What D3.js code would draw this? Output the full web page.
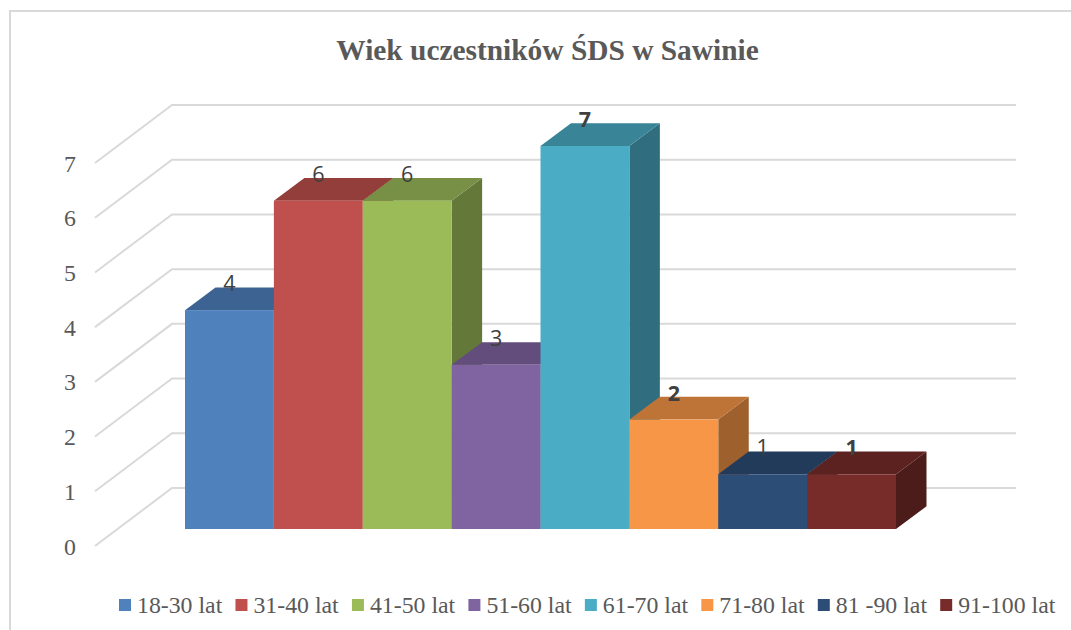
<!DOCTYPE html>
<html>
<head>
  <meta charset="utf-8">
  <script src="https://d3js.org/d3.v7.min.js"></script>
  <style>
    body { margin: 0; background: #fff; }
    svg { display: block; }
    .title { font-family: "Liberation Serif", serif; font-size: 29.4px; font-weight: bold; fill: #595959; text-anchor: middle; }
    .axis text, .legend text { font-family: "Liberation Serif", serif; font-size: 23.8px; fill: #595959; }
    .label { font-family: "Open Sans", sans-serif; font-size: 21.5px; fill: #404040; text-anchor: middle; }
    .grid { stroke: #d9d9d9; stroke-width: 2; fill: none; }
  </style>
</head>
<body>
  <script>
    // Chart data
    var title = "Wiek uczestników ŚDS w Sawinie";
    var categories = ["18-30 lat", "31-40 lat", "41-50 lat", "51-60 lat", "61-70 lat", "71-80 lat", "81 -90 lat", "91-100 lat"];
    var values = [4, 6, 6, 3, 7, 2, 1, 1];
    var yTicks = [0, 1, 2, 3, 4, 5, 6, 7];
    var colors = ["#4f81bd", "#c0504d", "#9bbb59", "#8064a2", "#4bacc6", "#f79646", "#2c4d75", "#772c2a"];
    var boldLabels = ["61-70 lat", "71-80 lat", "91-100 lat"];

    var width = 1071, height = 630;

    var svg = d3.select("body").append("svg")
        .attr("width", width)
        .attr("height", height);

    // Scales give the front face of the bars
    var x = d3.scaleBand().domain(categories).range([185, 896]);
    var y = d3.scaleLinear().domain([0, 7]).range([529, 146]);

    // 3D offsets
    var depthX = 30.5, depthY = -22.7;
    var floorFrontY = 17, wallY = -41;
    var wallLeft = 172, wallRight = 1016, floorLeft = 95;

    // Chart frame (only top and left edges show)
    svg.append("path")
        .attr("class", "grid")
        .attr("d", "M10," + height + "V11H" + width);

    svg.append("text")
        .attr("class", "title")
        .attr("x", 547.5)
        .attr("y", 60)
        .text(title);

    // Gridlines: diagonal along the floor side, then along the back wall
    svg.selectAll(".gridline")
        .data(yTicks)
      .enter().append("path")
        .attr("class", "grid gridline")
        .attr("d", function(d) {
          return "M" + floorLeft + "," + (y(d) + floorFrontY) +
                 "L" + wallLeft + "," + (y(d) + wallY) +
                 "H" + wallRight;
        });

    // Value axis
    svg.append("g")
        .attr("class", "axis")
        .attr("transform", "translate(76," + (floorFrontY + 0.5) + ")")
        .call(d3.axisLeft(y).tickValues(yTicks).tickSize(0).tickPadding(0).tickFormat(d3.format("d")))
        .call(function(g) { g.select(".domain").remove(); });

    // Bars, left to right so taller neighbours hide what is behind them
    var bars = svg.selectAll(".bar")
        .data(categories)
      .enter().append("g")
        .attr("class", "bar");

    function shade(c, k) {
      var col = d3.rgb(c);
      return d3.rgb(col.r * k, col.g * k, col.b * k).formatHex();
    }

    bars.append("polygon") // side
        .attr("fill", function(d, i) { return shade(colors[i], 0.64); })
        .attr("points", function(d, i) {
          var r = x(d) + x.bandwidth(), t = y(values[i]), b = y(0);
          return [[r, t], [r + depthX, t + depthY], [r + depthX, b + depthY], [r, b]].join(" ");
        });

    bars.append("polygon") // top
        .attr("fill", function(d, i) { return shade(colors[i], 0.77); })
        .attr("points", function(d, i) {
          var l = x(d), r = l + x.bandwidth(), t = y(values[i]);
          return [[l, t], [l + depthX, t + depthY], [r + depthX, t + depthY], [r, t]].join(" ");
        });

    bars.append("rect") // front
        .attr("x", function(d) { return x(d); })
        .attr("y", function(d, i) { return y(values[i]); })
        .attr("width", x.bandwidth())
        .attr("height", function(d, i) { return y(0) - y(values[i]); })
        .attr("fill", function(d, i) { return colors[i]; });

    // Data labels on top of everything
    svg.selectAll(".label")
        .data(categories)
      .enter().append("text")
        .attr("class", "label")
        .attr("x", function(d) { return x(d) + x.bandwidth() / 2; })
        .attr("y", function(d, i) { return y(values[i]) - 19; })
        .attr("font-weight", function(d) { return boldLabels.indexOf(d) >= 0 ? "bold" : null; })
        .text(function(d, i) { return values[i]; });

    // Legend, each item placed after the width of the one before it
    var legend = svg.append("g").attr("class", "legend");
    var legendX = 119;
    categories.forEach(function(d, i) {
      var item = legend.append("g").attr("transform", "translate(" + legendX + ",599)");
      item.append("rect")
          .attr("width", 12)
          .attr("height", 12)
          .attr("fill", colors[i]);
      var t = item.append("text")
          .attr("x", 18)
          .attr("y", 14)
          .text(d);
      legendX += 18 + t.node().getComputedTextLength() + 13.2;
    });
  </script>
</body>
</html>
